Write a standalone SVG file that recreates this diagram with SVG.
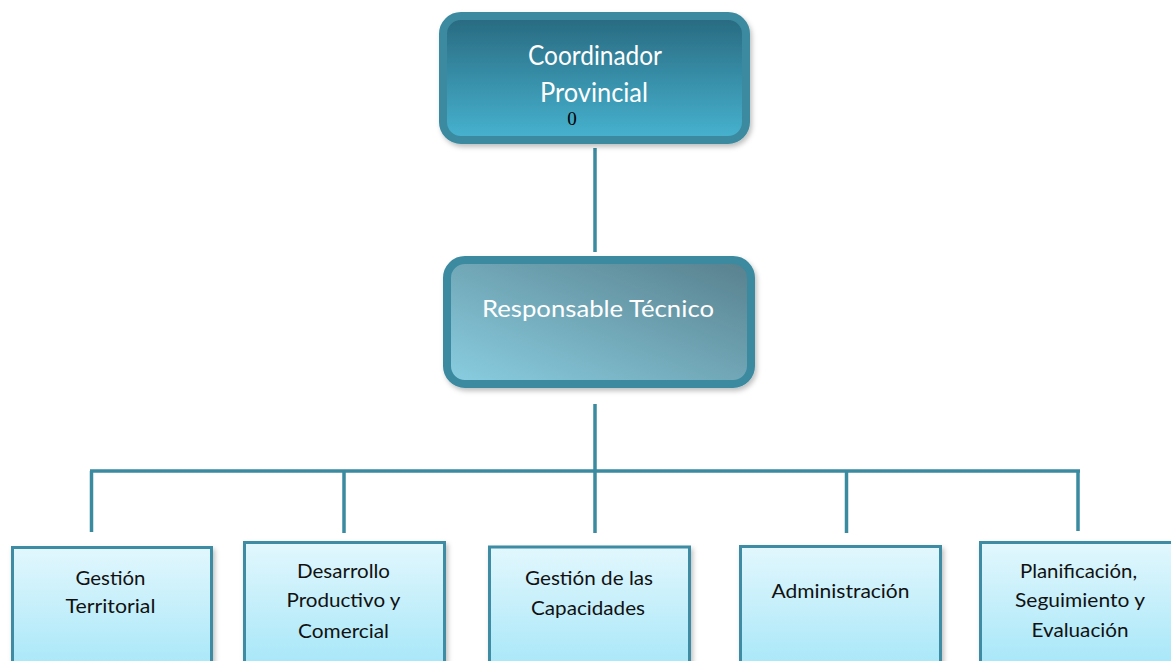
<svg xmlns="http://www.w3.org/2000/svg" width="1171" height="661" viewBox="0 0 1171 661">
<style>
.conn{stroke:#3a8aa0;stroke-width:3.5;fill:none;stroke-linecap:butt}
.big{stroke:#3a8aa0;stroke-width:8}
.leaf{fill:url(#leafGrad);stroke:#3d8ca3;stroke-width:3}
.wt{font-family:Lato,"Open Sans",sans-serif;fill:#ffffff;text-anchor:middle}
.bt{font-family:Lato,"Open Sans",sans-serif;fill:#111111;font-size:19px;text-anchor:middle}
</style>
<defs>
<linearGradient id="topGrad" x1="0" y1="0" x2="0" y2="1">
<stop offset="0" stop-color="#28697f"/>
<stop offset="1" stop-color="#47b3d0"/>
</linearGradient>
<linearGradient id="midGrad" x1="1" y1="0" x2="0" y2="1">
<stop offset="0" stop-color="#587f8c"/>
<stop offset="1" stop-color="#8acfe2"/>
</linearGradient>
<linearGradient id="leafGrad" x1="0" y1="0" x2="0" y2="1">
<stop offset="0" stop-color="#e2f7fd"/>
<stop offset="1" stop-color="#a4e6f8"/>
</linearGradient>
<filter id="sh" x="-10%" y="-10%" width="120%" height="130%">
<feDropShadow dx="2" dy="3" stdDeviation="2.5" flood-color="#000" flood-opacity="0.25"/>
</filter>
</defs>
<rect width="1171" height="661" fill="#ffffff"/>
<g id="connectors">
<line class="conn" x1="595" y1="148" x2="595" y2="252"/>
<line class="conn" x1="595" y1="404" x2="595" y2="471"/>
<line class="conn" x1="90" y1="471" x2="1080" y2="471"/>
<line class="conn" x1="91.5" y1="471" x2="91.5" y2="532"/>
<line class="conn" x1="344" y1="471" x2="344" y2="533"/>
<line class="conn" x1="595" y1="471" x2="595" y2="533"/>
<line class="conn" x1="846.5" y1="471" x2="846.5" y2="533"/>
<line class="conn" x1="1078" y1="471" x2="1078" y2="531"/>
</g>
<g id="coordinador">
<rect class="big" x="443" y="16" width="303" height="124" rx="18" fill="url(#topGrad)" filter="url(#sh)"/>
<text class="wt" x="595" y="65" font-size="26" textLength="134" lengthAdjust="spacingAndGlyphs">Coordinador</text>
<text class="wt" x="594" y="102" font-size="26" textLength="108" lengthAdjust="spacingAndGlyphs">Provincial</text>
<text x="572" y="125" font-family="'Liberation Serif',serif" font-size="19" fill="#000" text-anchor="middle">0</text>
</g>
<g id="responsable">
<rect class="big" x="447" y="260" width="304" height="124" rx="18" fill="url(#midGrad)" filter="url(#sh)"/>
<text class="wt" x="598" y="317" font-size="24" textLength="232" lengthAdjust="spacingAndGlyphs">Responsable Técnico</text>
</g>
<g id="gestion-territorial">
<rect class="leaf" x="12.5" y="547.5" width="199" height="130" filter="url(#sh)"/>
<text class="bt" x="110.5" y="585" textLength="70" lengthAdjust="spacingAndGlyphs">Gestión</text>
<text class="bt" x="110.5" y="613" textLength="90" lengthAdjust="spacingAndGlyphs">Territorial</text>
</g>
<g id="desarrollo">
<rect class="leaf" x="244.5" y="542.5" width="200" height="130" filter="url(#sh)"/>
<text class="bt" x="343.5" y="578" textLength="93" lengthAdjust="spacingAndGlyphs">Desarrollo</text>
<text class="bt" x="343.5" y="607" textLength="114" lengthAdjust="spacingAndGlyphs">Productivo y</text>
<text class="bt" x="343.5" y="638" textLength="91" lengthAdjust="spacingAndGlyphs">Comercial</text>
</g>
<g id="capacidades">
<rect class="leaf" x="489.5" y="547" width="200" height="130" filter="url(#sh)"/>
<text class="bt" x="589" y="585" textLength="128" lengthAdjust="spacingAndGlyphs">Gestión de las</text>
<text class="bt" x="588" y="615" textLength="114" lengthAdjust="spacingAndGlyphs">Capacidades</text>
</g>
<g id="administracion">
<rect class="leaf" x="740.5" y="546.5" width="200" height="130" filter="url(#sh)"/>
<text class="bt" x="840.5" y="598" textLength="138" lengthAdjust="spacingAndGlyphs">Administración</text>
</g>
<g id="planificacion">
<rect class="leaf" x="980.5" y="542.5" width="200" height="130" filter="url(#sh)"/>
<text class="bt" x="1078.5" y="578" textLength="117" lengthAdjust="spacingAndGlyphs">Planificación,</text>
<text class="bt" x="1080" y="607" textLength="130" lengthAdjust="spacingAndGlyphs">Seguimiento y</text>
<text class="bt" x="1080" y="637" textLength="97" lengthAdjust="spacingAndGlyphs">Evaluación</text>
</g>
</svg>
